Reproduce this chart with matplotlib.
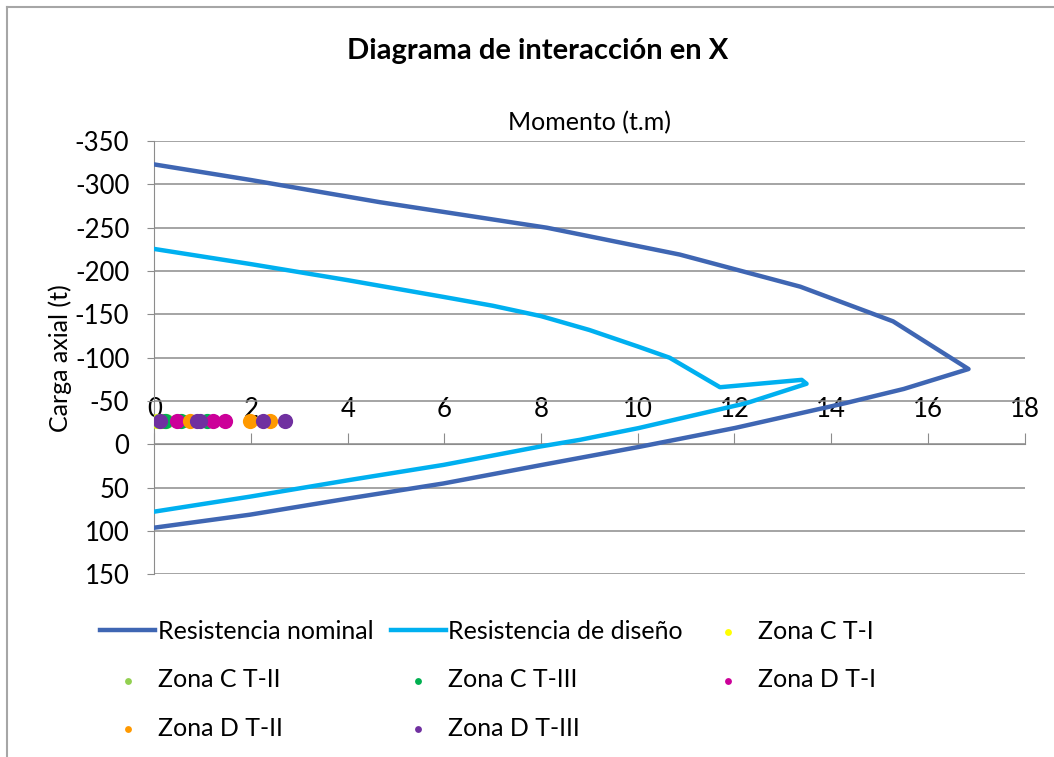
import matplotlib
matplotlib.use('Agg')
import matplotlib.pyplot as plt
from matplotlib.lines import Line2D

#*************************************************************************#
# data
#*************************************************************************#
nom_m = [0, 2.0, 4.66, 8.12, 10.87, 13.36, 15.28, 16.84, 15.50, 14.32, 12.01, 10.01, 7.98, 5.98, 4.05, 1.98, 0]
nom_p = [-323, -305, -279.5, -250, -219, -182, -142, -87, -64, -48, -19, 3, 24, 45, 62, 81, 96]

dis_m = [0, 2, 4, 6, 7, 8, 9, 10, 10.66, 11.70, 13.39, 13.49, 12.25, 10.01, 8.80, 7.98, 5.98, 4.05, 1.98, 0]
dis_p = [-225.5, -208, -189.5, -170, -160, -148, -132, -113, -100, -66, -74.5, -70, -47.7, -18.8, -5.3, 2.4, 23.6, 40.9, 60.2, 77.5]

zona_names = ['Zona C T-I', 'Zona C T-II', 'Zona C T-III', 'Zona D T-I', 'Zona D T-II', 'Zona D T-III']
zona_m = [
    [0.05, 0.15],
    [0.10, 0.25],
    [0.22, 0.55, 1.10],
    [0.46, 1.21, 1.46],
    [0.74, 1.98, 2.39],
    [0.12, 0.88, 0.95, 2.25, 2.70],
]
zona_p = [
    [-27.6, -27.6],
    [-27.6, -27.6],
    [-27.6, -27.6, -27.6],
    [-27.6, -27.6, -27.6],
    [-27.6, -27.6, -27.6],
    [-27.6, -27.6, -27.6, -27.6, -27.6],
]
zona_col = ['#FFFF00', '#92D050', '#00B050', '#CC0099', '#FF9900', '#7030A0']

x_ticks = [0, 2, 4, 6, 8, 10, 12, 14, 16, 18]
y_ticks = [-350, -300, -250, -200, -150, -100, -50, 0, 50, 100, 150]

#*************************************************************************#
plt.rcParams['font.family'] = ['Lato', 'DejaVu Sans']
GRAY = '#8C8C8C'

fig = plt.figure(figsize=(10.54, 7.57), dpi=100)
ax = fig.add_axes([0.1464, 0.2411, 0.9721 - 0.1464, 0.8137 - 0.2411])

ax.plot(nom_m, nom_p, color='#3F66B3', lw=3.2, label='Resistencia nominal', zorder=3)
ax.plot(dis_m, dis_p, color='#00B0F0', lw=3.2, label='Resistencia de diseño', zorder=3)
for i in range(len(zona_names)):
    ax.scatter(zona_m[i], zona_p[i], s=120, color=zona_col[i], label=zona_names[i], zorder=4, linewidths=0)

ax.set_xlim(0, 18)
ax.set_ylim(150, -350)
ax.set_xticks(x_ticks)
ax.set_yticks(y_ticks)
ax.set_yticklabels([str(v) for v in y_ticks])

# gridlines only horizontal
ax.yaxis.grid(True, color=GRAY, lw=1.1)
ax.set_axisbelow(True)

# x axis sits on the zero line, ticks and labels upward
ax.xaxis.tick_top()
ax.spines['top'].set_position(('data', 0))
ax.spines['top'].set_color(GRAY)
ax.spines['bottom'].set_visible(False)
ax.spines['right'].set_visible(False)
ax.spines['left'].set_color(GRAY)
ax.tick_params(axis='x', direction='out', length=8, color=GRAY, pad=8, labelsize=18.5)
ax.tick_params(axis='y', direction='out', length=5, color=GRAY, pad=13, labelsize=18.5)

fig.text(0.510, 0.933, 'Diagrama de interacción en X', ha='center', va='center', fontsize=21, fontweight='bold')
fig.text(0.5595, 0.838, 'Momento (t.m)', ha='center', va='center', fontsize=18)
fig.text(0.057, 0.527, 'Carga axial (t)', ha='center', va='center', fontsize=18, rotation=90)

# legend, reordered so that it reads row by row
h, l = ax.get_legend_handles_labels()
order = [0, 3, 6, 1, 4, 7, 2, 5]
leg = fig.legend([h[i] for i in order], [l[i] for i in order], ncol=3,
                 loc='upper left', bbox_to_anchor=(0.0949, 0.181), frameon=False,
                 fontsize=18, handlelength=2.2, handletextpad=0.1, columnspacing=0.7,
                 labelspacing=1.02, markerscale=0.45, borderpad=0, borderaxespad=0)

# outer border of the chart
fig.add_artist(Line2D([7 / 1054, 7 / 1054], [0, 1 - 7 / 757], color='#A6A6A6', lw=1.5))
fig.add_artist(Line2D([7 / 1054, 1], [1 - 7 / 757, 1 - 7 / 757], color='#A6A6A6', lw=1.5))

fig.savefig('out.png', dpi=100)
print("end")
